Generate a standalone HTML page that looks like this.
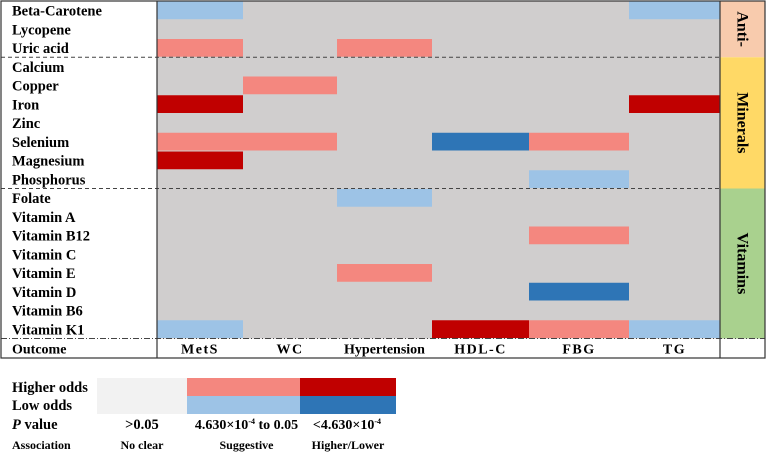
<!DOCTYPE html>
<html><head><meta charset="utf-8"><style>
body{margin:0;background:#fff;width:767px;height:460px;overflow:hidden}
svg{display:block;font-family:"Liberation Serif",serif;font-weight:bold}
</style></head><body>
<svg id="chart" width="767" height="460" xmlns="http://www.w3.org/2000/svg"></svg>
<script>
const rowLabels=["Beta-Carotene","Lycopene","Uric acid","Calcium","Copper","Iron","Zinc","Selenium","Magnesium","Phosphorus","Folate","Vitamin A","Vitamin B12","Vitamin C","Vitamin E","Vitamin D","Vitamin B6","Vitamin K1"];
const outcomes=["MetS","WC","Hypertension","HDL-C","FBG","TG"];
// 0 none, 1 suggestive higher, 2 strong higher, -1 suggestive lower, -2 strong lower
const cellValues=[
[-1,0,0,0,0,-1],
[0,0,0,0,0,0],
[1,0,1,0,0,0],
[0,0,0,0,0,0],
[0,1,0,0,0,0],
[2,0,0,0,0,2],
[0,0,0,0,0,0],
[1,1,0,-2,1,0],
[2,0,0,0,0,0],
[0,0,0,0,-1,0],
[0,0,-1,0,0,0],
[0,0,0,0,0,0],
[0,0,0,0,1,0],
[0,0,0,0,0,0],
[0,0,1,0,0,0],
[0,0,0,0,-2,0],
[0,0,0,0,0,0],
[-1,0,0,2,1,-1]];
const groupNames=["Anti-","Minerals","Vitamins"];
const groupStarts=[0,3,10];
const groupEnds=[3,10,18];

const NS="http://www.w3.org/2000/svg";
const svg=document.getElementById('chart');
function mk(t,a,txt){const e=document.createElementNS(NS,t);for(const k in a)e.setAttribute(k,a[k]);if(txt!==undefined)e.textContent=txt;svg.appendChild(e);return e;}
const colorOf={"0":"#D0CECE","1":"#F4877F","2":"#C00000","-1":"#9DC3E6","-2":"#2E75B6"};
const gx0=157,gx1=720,top0=1,rowH=18.75;
const colEdges=[157,243,337,432,529,629,720];
const xs=i=>colEdges[i];
const ys=r=>top0+r*rowH;
const groupColors=["#F8CBAD","#FFD966","#A9D18E"];

let bg=mk('rect',{x:gx0,y:top0,width:gx1-gx0,height:18*rowH,fill:"#D0CECE"});


cellValues.forEach((row,r)=>row.forEach((v,c)=>{
  if(v===0)return;
  const e=mk('rect',{x:xs(c),y:ys(r)+0.5,width:xs(c+1)-xs(c),height:rowH-1,fill:colorOf[String(v)]});
  
  
}));
rowLabels.forEach((l,r)=>{
  const e=mk('text',{x:12,y:ys(r)+14.5,'font-size':14.5},l);
  
  
});
groupNames.forEach((g,i)=>{
  const y0=ys(groupStarts[i]),y1=ys(groupEnds[i]);
  const b=mk('rect',{x:gx1,y:y0,width:45,height:y1-y0,fill:groupColors[i]});
  
  
  const cy=(y0+y1)/2;
  const t=mk('text',{x:742,y:cy,'font-size':16,'text-anchor':'middle','dominant-baseline':'central',transform:`rotate(90 742 ${cy})`},g);
  
  
  if(i>0){const d=mk('line',{x1:1,x2:gx1,y1:y0,y2:y0,stroke:"#444",'stroke-width':1,'stroke-dasharray':'4,3'});
  }
});
const by=ys(18);
let d2=mk('line',{x1:1,x2:765,y1:by,y2:by,stroke:"#444",'stroke-width':1,'stroke-dasharray':'6,2,1,2'});

let ol=mk('text',{x:12,y:by+15,'font-size':14},"Outcome");

outcomes.forEach((o,c)=>{
  const e=mk('text',{x:(xs(c)+xs(c+1))/2,y:by+15,'font-size':14,'text-anchor':'middle','letter-spacing':o.length<6?1.5:0},o);
  
  
});
[[gx0,top0,gx0,358],[gx1,top0,gx1,358]].forEach(a=>{const l=mk('line',{x1:a[0],y1:a[1],x2:a[2],y2:a[3],stroke:"#333",'stroke-width':1.2});});
let fr=mk('rect',{x:1,y:top0,width:764,height:358-top0,fill:"none",stroke:"#333",'stroke-width':1.2});


// legend
const legCols=[97,187,300,396];
const legTop=[["#F2F2F2","#F4877F","#C00000"],["#F2F2F2","#9DC3E6","#2E75B6"]];
legTop.forEach((row,r)=>row.forEach((col,c)=>{
  const e=mk('rect',{x:legCols[c],y:378+r*18,width:legCols[c+1]-legCols[c],height:18,fill:col});
  
}));
[["Higher odds",392,14.5],["Low odds",410,14.5],["Association",449,12]].forEach(a=>{
  const e=mk('text',{x:12,y:a[1],'font-size':a[2]},a[0]);
  
});
let pv=mk('text',{x:12,y:429,'font-size':14.5});

pv.innerHTML='<tspan font-style="italic">P</tspan> value';
const cx=c=>(legCols[c]+legCols[c+1])/2;
let p1=mk('text',{x:cx(0),y:429,'font-size':14.5,'text-anchor':'middle'},">0.05");

let p2=mk('text',{x:cx(1)+3,y:429,'font-size':14,'text-anchor':'middle'});
p2.innerHTML='4.630×10<tspan font-size="8" dy="-5">-4</tspan><tspan dy="5"> to 0.05</tspan>';

let p3=mk('text',{x:cx(2)-1,y:429,'font-size':14,'text-anchor':'middle'});
p3.innerHTML='&lt;4.630×10<tspan font-size="8" dy="-5">-4</tspan>';

["No clear","Suggestive","Higher/Lower"].forEach((s,c)=>{
  const e=mk('text',{x:cx(c)+(c===1?3:0),y:449,'font-size':12,'text-anchor':'middle'},s);
  
});
</script>
</body></html>
